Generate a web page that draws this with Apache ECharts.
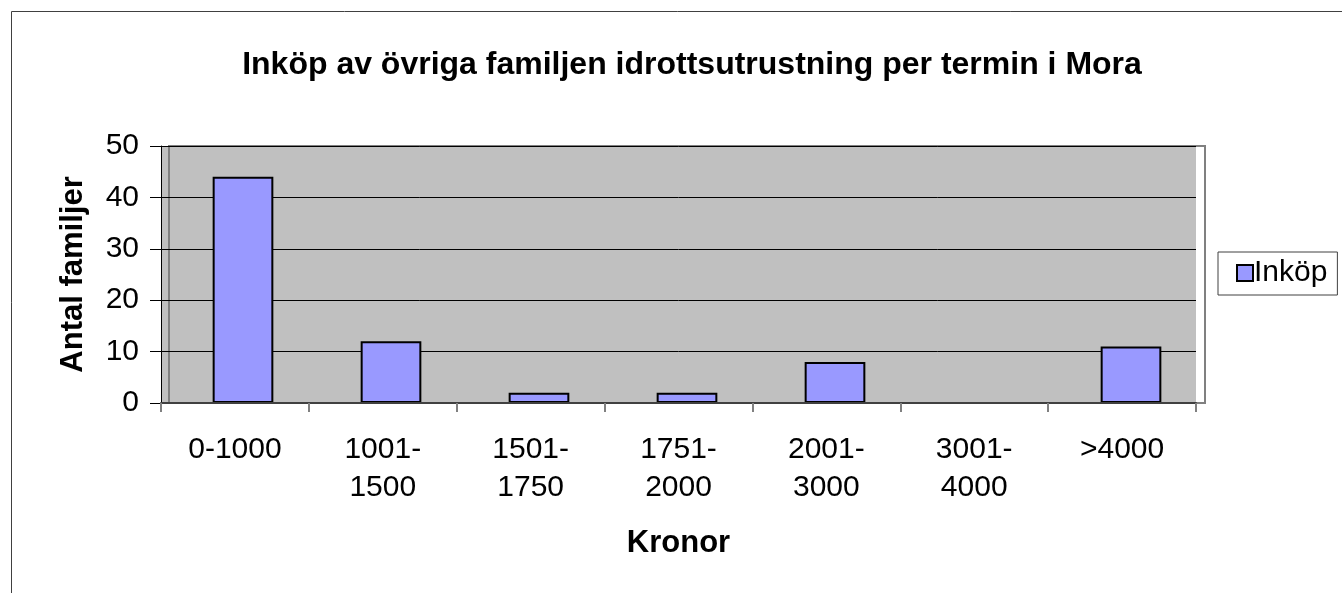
<!DOCTYPE html>
<html>
<head>
<meta charset="utf-8">
<script src="https://cdn.jsdelivr.net/npm/echarts@6/dist/echarts.min.js"></script>
<style>
  html, body { margin: 0; padding: 0; background: #fff; }
  #chart { width: 1342px; height: 593px; }
</style>
</head>
<body>
<div id="chart"></div>
<script>
const categories = ['0-1000', '1001-\n1500', '1501-\n1750', '1751-\n2000', '2001-\n3000', '3001-\n4000', '>4000']
const inkop = [44, 12, 2, 2, 8, 0, 11]
const yTicks = { min: 0, max: 50, interval: 10 }

const font = 'Arial, "Liberation Sans", sans-serif'
const chart = echarts.init(document.getElementById('chart'))

// the excel 3d wall: bars sit on a back plane shifted a few px right
const barData = inkop.map(v => (v === 0 ? { value: v, itemStyle: { borderWidth: 0 } } : v))

chart.setOption({
  animation: false,
  textStyle: { fontFamily: font },
  title: {
    text: 'Inköp av övriga familjen idrottsutrustning per termin i Mora',
    left: 687,
    top: 44,
    textAlign: 'center',
    textStyle: { fontFamily: font, fontSize: 32, fontWeight: 'bold', color: '#000' },
  },
  graphic: [
    {
      type: 'rect',
      shape: { x: 11.5, y: 11.5, width: 1400, height: 700 },
      style: { fill: 'none', stroke: '#404040', lineWidth: 1 },
      silent: true,
    },
  ],
  legend: {
    data: ['Inköp'],
    left: 1218,
    top: 252,
    orient: 'vertical',
    padding: [6, 10, 7, 18],
    borderColor: '#404040',
    borderWidth: 1,
    itemWidth: 16,
    itemHeight: 16,
    itemGap: 0,
    icon: 'rect',
    textStyle: { fontFamily: font, fontSize: 30, color: '#000', padding: [0, 0, 0, -4] },
  },
  grid: [
    {
      left: 161,
      right: 146,
      top: 146,
      bottom: 190,
      show: true,
      backgroundColor: '#C0C0C0',
      borderWidth: 0,
    },
    {
      left: 169,
      right: 137,
      top: 146,
      bottom: 190,
      show: true,
      backgroundColor: 'transparent',
      borderColor: '#808080',
      borderWidth: 2,
    },
  ],
  xAxis: [
    {
      type: 'category',
      gridIndex: 0,
      data: categories,
      name: 'Kronor',
      nameLocation: 'middle',
      nameGap: 125,
      nameTextStyle: { fontFamily: font, fontSize: 31, fontWeight: 'bold', color: '#000' },
      axisLine: { lineStyle: { color: '#404040', width: 2 } },
      axisTick: { show: true, length: 9, lineStyle: { color: '#808080', width: 2 } },
      axisLabel: { fontFamily: font, fontSize: 30, color: '#000', margin: 28, lineHeight: 38 },
      z: 5,
    },
    {
      type: 'category',
      gridIndex: 1,
      data: categories,
      show: false,
    },
  ],
  yAxis: [
    {
      type: 'value',
      gridIndex: 0,
      min: yTicks.min,
      max: yTicks.max,
      interval: yTicks.interval,
      name: 'Antal familjer',
      nameLocation: 'middle',
      nameGap: 72,
      nameTextStyle: { fontFamily: font, fontSize: 31, fontWeight: 'bold', color: '#000' },
      axisLine: { show: true, lineStyle: { color: '#000', width: 1 } },
      axisTick: { show: true, length: 11, lineStyle: { color: '#000' } },
      axisLabel: { fontFamily: font, fontSize: 30, color: '#000', margin: 22 },
      splitLine: { show: true, lineStyle: { color: '#000', width: 1 } },
    },
    {
      type: 'value',
      gridIndex: 1,
      min: yTicks.min,
      max: yTicks.max,
      interval: yTicks.interval,
      show: false,
      splitLine: { show: false },
    },
  ],
  series: [
    {
      name: 'Inköp',
      type: 'bar',
      xAxisIndex: 1,
      yAxisIndex: 1,
      data: barData,
      barWidth: '41%',
      itemStyle: { color: '#9999FF', borderColor: '#000', borderWidth: 2 },
      z: 3,
    },
  ],
})
</script>
</body>
</html>
